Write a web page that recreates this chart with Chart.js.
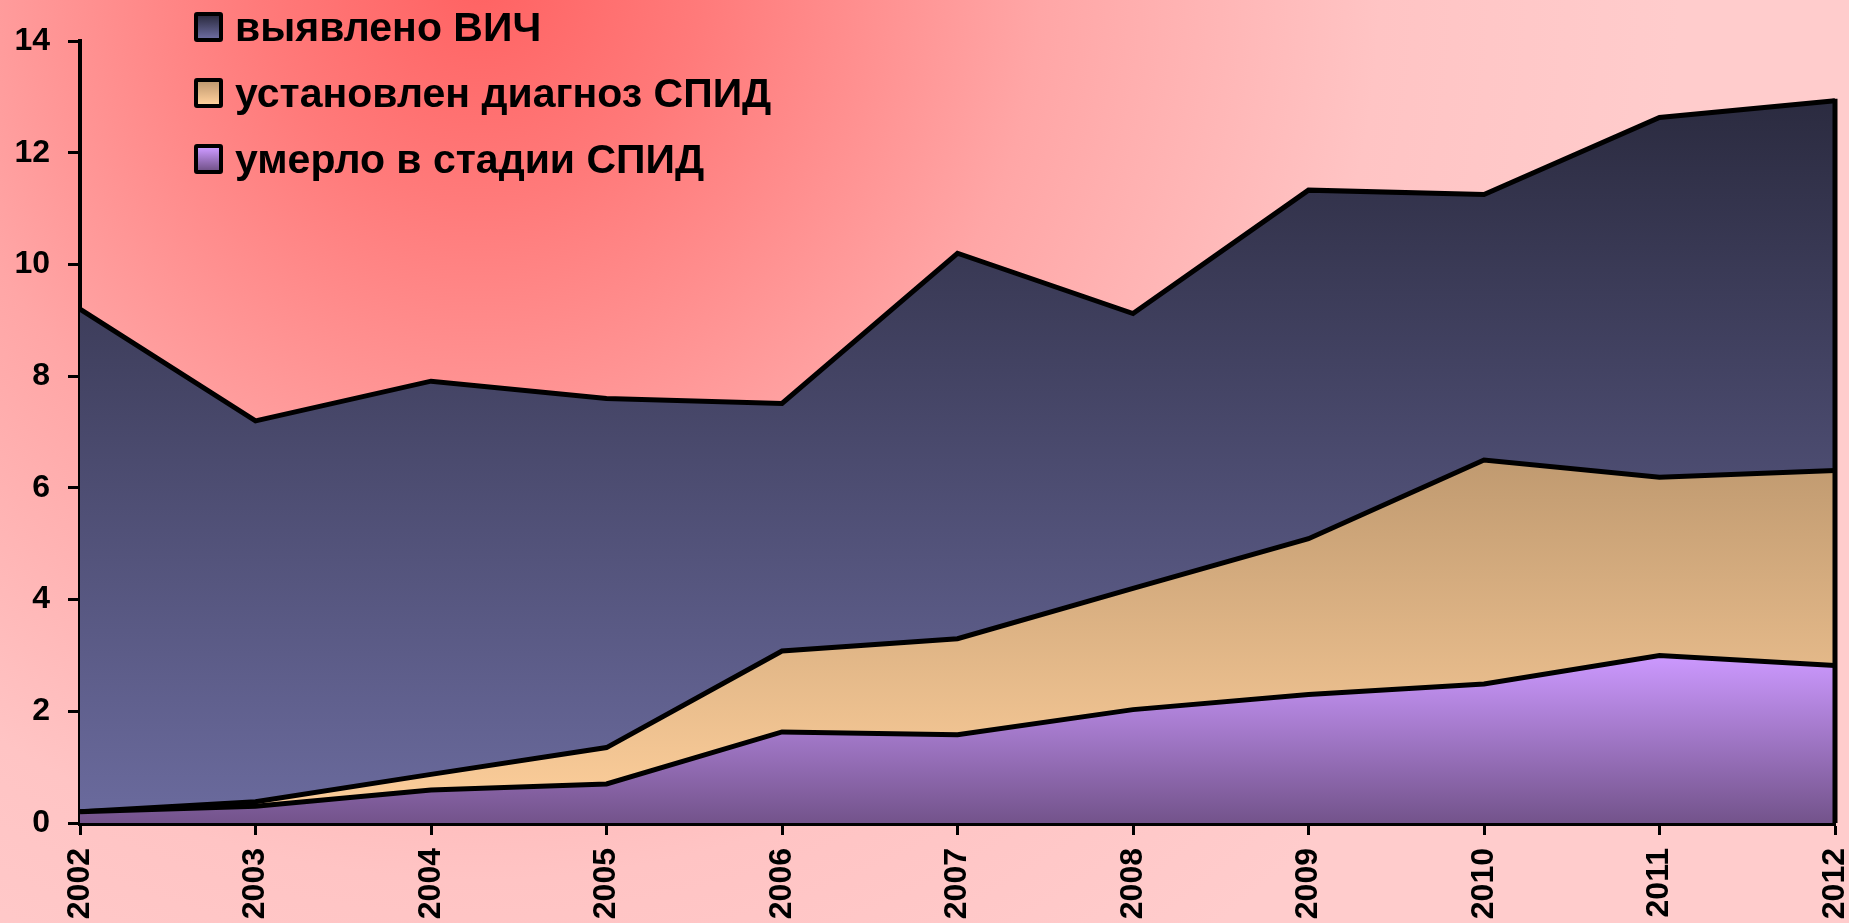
<!DOCTYPE html>
<html lang="ru">
<head>
<meta charset="UTF-8">
<title>ВИЧ / СПИД 2002-2012</title>
<style>
  html, body { margin: 0; padding: 0; }
  body {
    width: 1849px; height: 923px; overflow: hidden;
    background: radial-gradient(circle at 480px -20px, #ff6262 0px, #ff7a7a 220px, #ffa6a6 560px, #ffc4c4 900px, #ffcccc 1200px);
    font-family: "Liberation Sans", Arial, sans-serif;
  }
  #wrap { position: relative; width: 1849px; height: 923px; }
  #legenda { position: absolute; left: 194px; top: -6px; }
  .item { height: 66px; display: flex; align-items: center; font-weight: bold; font-size: 41px; color: #000; white-space: nowrap; }
  .box { width: 21px; height: 22px; border: 4px solid #000; border-radius: 3px; margin-right: 12px; }
</style>
</head>
<body>
<div id="wrap">
  <canvas id="grafico"></canvas>
  <div id="legenda"></div>
</div>

<script src="https://cdn.jsdelivr.net/npm/chart.js"></script>
<script>
  // dados
  const anos = ['2002','2003','2004','2005','2006','2007','2008','2009','2010','2011','2012']
  const vich = [9.2, 7.2, 7.91, 7.6, 7.51, 10.2, 9.12, 11.33, 11.25, 12.63, 12.93]
  const spid = [0.2, 0.38, 0.87, 1.35, 3.08, 3.3, 4.2, 5.09, 6.5, 6.19, 6.31]
  const umerlo = [0.2, 0.3, 0.59, 0.7, 1.63, 1.58, 2.03, 2.3, 2.49, 3.0, 2.82]
  const yTicks = [0, 2, 4, 6, 8, 10, 12, 14]

  const fonte = { family: '"Liberation Sans", Arial, sans-serif', weight: 'bold' }

  // gradiente vertical do valor maximo ate zero
  const gradiente = (valores, cTop, cBottom) => (context) => {
    const chart = context.chart
    if (!chart.chartArea) return cBottom
    const y = chart.scales.y
    const g = chart.ctx.createLinearGradient(0, y.getPixelForValue(Math.max(...valores)), 0, y.getPixelForValue(0))
    g.addColorStop(0, cTop)
    g.addColorStop(1, cBottom)
    return g
  }

  // borda vertical no ultimo ano (como no Excel)
  const bordaDireita = {
    id: 'bordaDireita',
    afterDatasetsDraw(chart) {
      const ctx = chart.ctx
      let topo = Infinity, x = 0
      chart.data.datasets.forEach((ds, i) => {
        const pts = chart.getDatasetMeta(i).data
        const p = pts[pts.length - 1]
        x = p.x
        topo = Math.min(topo, p.y)
      })
      ctx.save()
      ctx.strokeStyle = '#000'
      ctx.lineWidth = 5
      ctx.beginPath()
      ctx.moveTo(x, topo - 2)
      ctx.lineTo(x, chart.scales.y.getPixelForValue(0))
      ctx.stroke()
      ctx.restore()
    }
  }

  const series = [
    { label: 'умерло в стадии СПИД', data: umerlo, top: '#cc99ff', bottom: '#73538b' },
    { label: 'установлен диагноз СПИД', data: spid, top: '#c09a70', bottom: '#ffd09c' },
    { label: 'выявлено ВИЧ', data: vich, top: '#2b2b40', bottom: '#6b6b9e' }
  ]

  const ctx = document.getElementById('grafico')
  ctx.width = 1849
  ctx.height = 923

  const grafico = new Chart(ctx, {
    type: 'line',
    data: {
      labels: anos,
      datasets: series.map(s => ({
        label: s.label,
        data: s.data,
        fill: 'origin',
        tension: 0,
        pointRadius: 0,
        borderColor: '#000',
        borderWidth: 5,
        borderJoinStyle: 'miter',
        backgroundColor: gradiente(s.data, s.top, s.bottom)
      }))
    },
    options: {
      responsive: false,
      animation: false,
      layout: { padding: { top: 41, right: 14, left: 0, bottom: 0 } },
      plugins: { legend: { display: false }, tooltip: { enabled: false } },
      scales: {
        x: {
          offset: false,
          grid: { drawOnChartArea: false, drawTicks: true, tickLength: 12, tickWidth: 3, tickColor: '#000' },
          border: { display: true, color: '#000', width: 5 },
          ticks: { color: '#000', font: { ...fonte, size: 32 }, minRotation: 90, maxRotation: 90, padding: 13, autoSkip: false },
          afterFit: (s) => { s.height = 100; s.paddingLeft = 0; s.paddingRight = 0 }
        },
        y: {
          min: 0, max: 14,
          afterBuildTicks: (s) => { s.ticks = yTicks.map(v => ({ value: v })) },
          grid: { drawOnChartArea: false, drawTicks: true, tickLength: 12, tickWidth: 3, tickColor: '#000' },
          border: { display: true, color: '#000', width: 4 },
          ticks: { color: '#000', font: { ...fonte, size: 32 }, padding: 18 },
          afterFit: (s) => { s.width = 80; s.paddingTop = 0; s.paddingBottom = 0 }
        }
      }
    },
    plugins: [bordaDireita]
  })

  // legenda em HTML, na ordem inversa dos datasets
  const legenda = document.getElementById('legenda')
  series.slice().reverse().forEach(s => {
    const item = document.createElement('div')
    item.className = 'item'
    const box = document.createElement('div')
    box.className = 'box'
    box.style.background = 'linear-gradient(' + s.top + ', ' + s.bottom + ')'
    item.appendChild(box)
    item.appendChild(document.createTextNode(s.label))
    legenda.appendChild(item)
  })
</script>
</body>
</html>
